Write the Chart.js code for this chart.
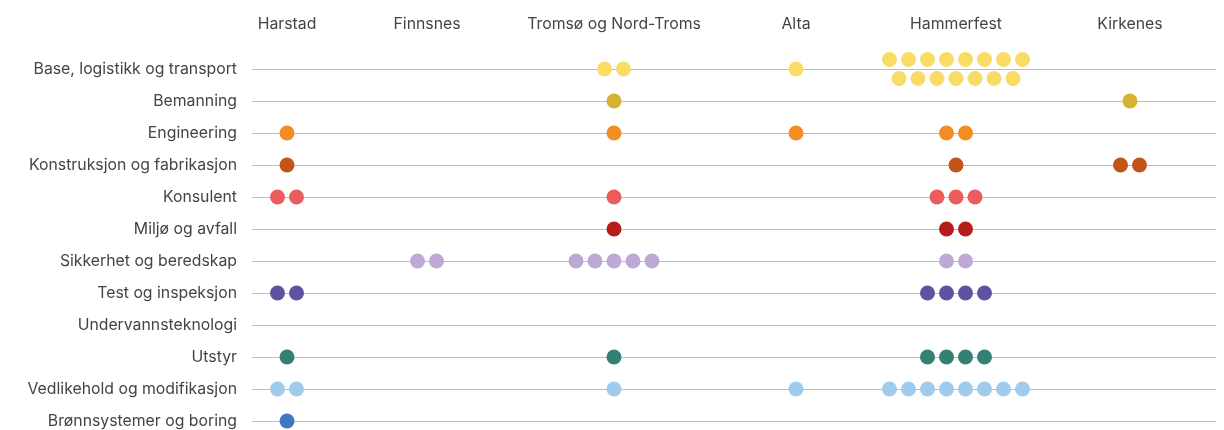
<!DOCTYPE html>
<html>
<head>
<meta charset="utf-8">
<script src="https://cdn.jsdelivr.net/npm/chart.js"></script>
<style>
  body { margin: 0; background: #fff; }
  #wrap { width: 1224px; height: 430px; }
</style>
</head>
<body>
<div id="wrap"><canvas id="c"></canvas></div>
<script>
// ---- data ----
const locations = ["Harstad", "Finnsnes", "Tromsø og Nord-Troms", "Alta", "Hammerfest", "Kirkenes"];

const categories = [
  "Base, logistikk og transport",
  "Bemanning",
  "Engineering",
  "Konstruksjon og fabrikasjon",
  "Konsulent",
  "Miljø og avfall",
  "Sikkerhet og beredskap",
  "Test og inspeksjon",
  "Undervannsteknologi",
  "Utstyr",
  "Vedlikehold og modifikasjon",
  "Brønnsystemer og boring",
];

// number of companies per category, one value per location (same order as locations)
const baseLogistikk = [0, 0, 2, 1, 15, 0];
const bemanning     = [0, 0, 1, 0, 0, 1];
const engineering   = [1, 0, 1, 1, 2, 0];
const konstruksjon  = [1, 0, 0, 0, 1, 2];
const konsulent     = [2, 0, 1, 0, 3, 0];
const miljo         = [0, 0, 1, 0, 2, 0];
const sikkerhet     = [0, 2, 5, 0, 2, 0];
const testInsp      = [2, 0, 0, 0, 4, 0];
const undervann     = [0, 0, 0, 0, 0, 0];
const utstyr        = [1, 0, 1, 0, 4, 0];
const vedlikehold   = [2, 0, 1, 1, 8, 0];
const bronn         = [1, 0, 0, 0, 0, 0];

const counts = [baseLogistikk, bemanning, engineering, konstruksjon, konsulent, miljo,
  sikkerhet, testInsp, undervann, utstyr, vedlikehold, bronn];

const colors = [
  "#f8dc66", "#d6b232", "#f28d23", "#c15418", "#eb5d5c", "#b71c1c",
  "#bea9d4", "#5f52a0", "#9ecbeb", "#348173", "#9fcbec", "#3f78c1",
];

// ---- layout (x axis is in pixels of the plot area) ----
const plotWidth = 964;
const colCenters = [35, 175, 362, 544, 704, 878];
const dotGap = 19;        // px between dot centres
const perRow = 8;         // dots per line before wrapping
const rowPx = 32;         // px between category lines

// build one dataset per category
const datasets = categories.map((cat, ci) => {
  const pts = [];
  counts[ci].forEach((n, li) => {
    if (!n) return;
    const rows = Math.ceil(n / perRow);
    for (let r = 0; r < rows; r++) {
      const inRow = Math.min(perRow, n - r * perRow);
      const dy = (r - (rows - 1) / 2) * dotGap / rowPx;
      for (let i = 0; i < inRow; i++) {
        pts.push({ x: colCenters[li] + (i - (inRow - 1) / 2) * dotGap, y: ci + dy });
      }
    }
  });
  return {
    label: cat,
    data: pts,
    backgroundColor: colors[ci],
    pointRadius: 7.5,
    pointBorderWidth: 0,
    pointHoverRadius: 7.5,
    clip: false,
  };
});

const font = { family: "Inter, 'Noto Sans', sans-serif", size: 15.8 };

new Chart(document.getElementById("c"), {
  type: "scatter",
  data: { datasets },
  options: {
    responsive: true,
    maintainAspectRatio: false,
    animation: false,
    layout: { autoPadding: false, padding: { left: 0, right: 8, top: 0, bottom: 0 } },
    plugins: { legend: { display: false }, tooltip: { enabled: false } },
    scales: {
      x: {
        type: "linear",
        position: "top",
        min: 0,
        max: plotWidth,
        afterBuildTicks: (s) => { s.ticks = colCenters.map((v) => ({ value: v })); },
        afterFit: (s) => { s.height = 53; },
        ticks: {
          autoSkip: false,
          maxRotation: 0,
          padding: 11,
          color: "#444",
          font,
          callback: (v) => locations[colCenters.indexOf(v)],
        },
        grid: { display: false },
        border: { display: false },
      },
      y: {
        type: "linear",
        reverse: true,
        min: -0.5,
        max: 11 + 9 / rowPx,
        afterBuildTicks: (s) => { s.ticks = categories.map((_, i) => ({ value: i })); },
        afterFit: (s) => {
          s.width = 252;
          // labels never reach the top/bottom edge, so no extra padding
          s.paddingTop = 0;
          s.paddingBottom = 0;
        },
        ticks: {
          autoSkip: false,
          padding: 0,
          color: "#444",
          font,
          callback: (v) => categories[v],
        },
        // invisible tick marks give the gap between labels and lines
        grid: { color: "#bdbdbd", lineWidth: 1, drawTicks: true, tickLength: 15, tickColor: "rgba(0,0,0,0)" },
        border: { display: false },
      },
    },
  },
});
</script>
</body>
</html>
